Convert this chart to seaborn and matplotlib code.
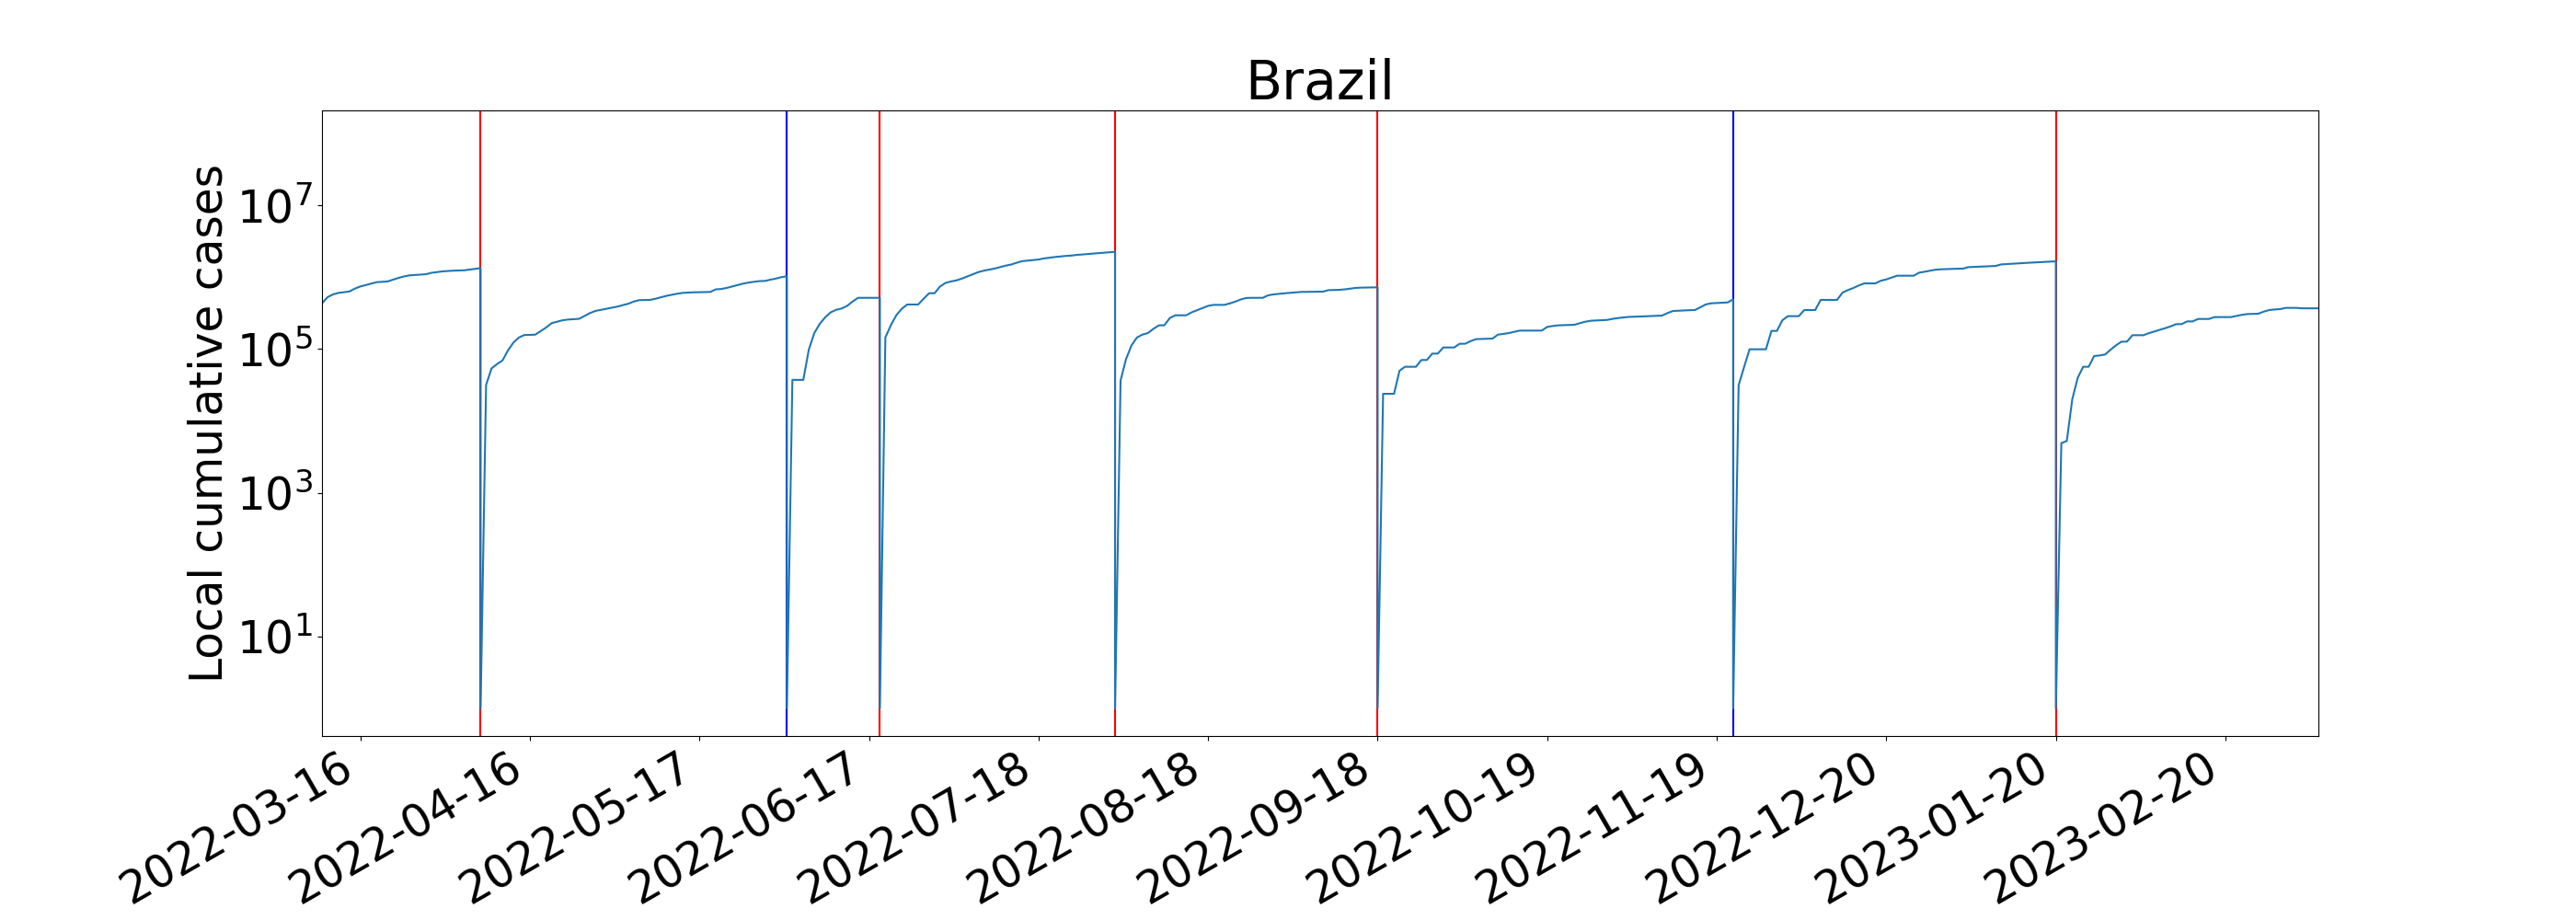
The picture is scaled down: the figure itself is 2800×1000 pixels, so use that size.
import matplotlib
matplotlib.use("Agg")
import matplotlib.pyplot as plt
import matplotlib.ticker as mticker
import matplotlib.dates as mdates
import seaborn as sns
import pandas as pd
import numpy as np

# ---- data ----
country = "Brazil"
segment_starts = ["2022-03-09", "2022-04-07", "2022-06-02", "2022-06-19",
                  "2022-08-01", "2022-09-18", "2022-11-22", "2023-01-20"]
boundary_colors = ["red", "blue", "red", "red", "red", "blue", "red"]

seg1 = [432000, 525000, 575000, 603000, 617000, 631000, 692000, 741000, 776000, 813000,
        851000, 861000, 871000, 923000, 977000, 1023000, 1059000, 1072000, 1084000, 1097000,
        1148000, 1175000, 1202000, 1216000, 1230000, 1236000, 1245000, 1274000, 1303000, 1334000]
seg2 = [1, 31600, 53700, 61700, 69200, 95500, 123000, 144500, 156700, 157000,
        158500, 177800, 199500, 229100, 239900, 251200, 257000, 260000, 263000, 288400,
        316200, 338800, 350800, 363100, 375800, 389000, 407400, 426600, 457100, 478600,
        479700, 482000, 501200, 524800, 549500, 568900, 588800, 603900, 609500, 615200,
        616600, 619400, 622300, 676100, 683900, 707900, 741300, 776200, 812800, 841400,
        861000, 881000, 885100, 922600, 955000, 1000000, 1025600]
seg3 = [1, 37200, 37200, 37200, 97700, 166000, 223900, 275400, 323600, 350800,
        365600, 398100, 457100, 515200, 515200, 515200, 515200, 515200]
seg4 = [1, 144500, 213800, 295100, 363100, 415900, 415900, 415900, 501200, 597000,
        597000, 741300, 831800, 871000, 901600, 955000, 1023300, 1096500, 1174900, 1230300,
        1273500, 1318300, 1380400, 1445400, 1496200, 1584900, 1667200, 1698200, 1725800, 1757900,
        1819700, 1862100, 1905500, 1940900, 1972400, 1995300, 2041700, 2065400, 2099000, 2128200,
        2157800, 2187800, 2218200, 2249100]
seg5 = [1, 36300, 72400, 112200, 144500, 158500, 166700, 190500, 213300, 213800,
        269200, 294400, 294400, 294400, 323600, 346700, 371500, 398100, 411100, 411100,
        411100, 431500, 457100, 489800, 512900, 515200, 515200, 515200, 558500, 575400,
        586100, 595700, 603900, 613800, 622300, 623700, 625200, 626600, 628100, 659200,
        662200, 665300, 676100, 691800, 707900, 714500, 716100, 719400, 721100]
seg6 = [1, 23800, 23800, 23800, 49800, 56600, 56600, 56600, 70300, 70300,
        86300, 86300, 105000, 105000, 105000, 118300, 118300, 128800, 137100, 138000,
        139000, 139600, 158500, 162200, 166700, 173800, 180300, 180300, 180300, 180300,
        180300, 202800, 208900, 213300, 214800, 216300, 217300, 229100, 239900, 247200,
        249500, 251200, 254100, 263000, 269800, 275400, 279900, 281200, 283100, 285100,
        287700, 289700, 291700, 316200, 338100, 341200, 344400, 346700, 348300, 380200,
        416900, 432500, 436500, 440600, 444600, 490900]
seg7 = [1, 31400, 56200, 99100, 99100, 99100, 99100, 178600, 178600, 251200,
        286400, 286400, 286400, 348300, 348300, 348300, 482000, 482000, 482000, 482000,
        609500, 660700, 707900, 767400, 818400, 818400, 818400, 891300, 928900, 988600,
        1047100, 1047100, 1047100, 1047100, 1153400, 1188500, 1230300, 1267600, 1285300, 1294100,
        1303200, 1309100, 1312200, 1377200, 1386800, 1399600, 1409300, 1419100, 1432200, 1503100,
        1517000, 1534600, 1552400, 1570400, 1584900, 1599600, 1614400, 1629300, 1644400, 1659600]
seg8 = [1, 4900, 5250, 19950, 39800, 56600, 56600, 79800, 81300, 83800,
        97700, 112500, 126500, 126500, 155600, 155600, 155600, 166000, 175000, 184100,
        195000, 206500, 221800, 221800, 242100, 242100, 261800, 261800, 261800, 278000,
        278000, 278000, 278000, 288400, 298500, 306200, 307600, 309700, 331100, 348300,
        354800, 358900, 373300, 373300, 373300, 368100, 368100, 368100, 368100]
segments = [seg1, seg2, seg3, seg4, seg5, seg6, seg7, seg8]

x_start, x_end = "2022-03-09", "2023-03-09"
tick_dates = pd.date_range("2022-03-16", periods=12, freq="31D")

# ---- build long table (each segment includes its boundary day) ----
frames = []
for start, vals in zip(segment_starts, segments):
    d = pd.date_range(start, periods=len(vals), freq="D")
    frames.append(pd.DataFrame({"date": d, "cases": vals}))
df = pd.concat(frames, ignore_index=True)

# ---- plot ----
plt.rcParams["font.size"] = 35
fig, ax = plt.subplots(figsize=(28, 10), dpi=100)

for b, c in zip(segment_starts[1:], boundary_colors):
    ax.axvline(pd.Timestamp(b), color=c, lw=1.5)

sns.lineplot(data=df, x="date", y="cases", estimator=None, sort=False,
             color="#1f77b4", lw=1.5, ax=ax)

ax.set_yscale("log")
ax.set_ylim(10 ** -0.385, 10 ** 8.32)
ax.set_yticks([1e1, 1e3, 1e5, 1e7])
ax.yaxis.set_minor_locator(mticker.NullLocator())
ax.set_xlim(pd.Timestamp(x_start), pd.Timestamp(x_end))
ax.set_xticks(tick_dates)
ax.xaxis.set_major_formatter(mdates.DateFormatter("%Y-%m-%d"))
ax.xaxis.set_minor_locator(mticker.NullLocator())

ax.set_title(country)
ax.set_xlabel("")
ax.set_ylabel("Local cumulative cases")
fig.autofmt_xdate()

fig.savefig("out.png", dpi=100)
